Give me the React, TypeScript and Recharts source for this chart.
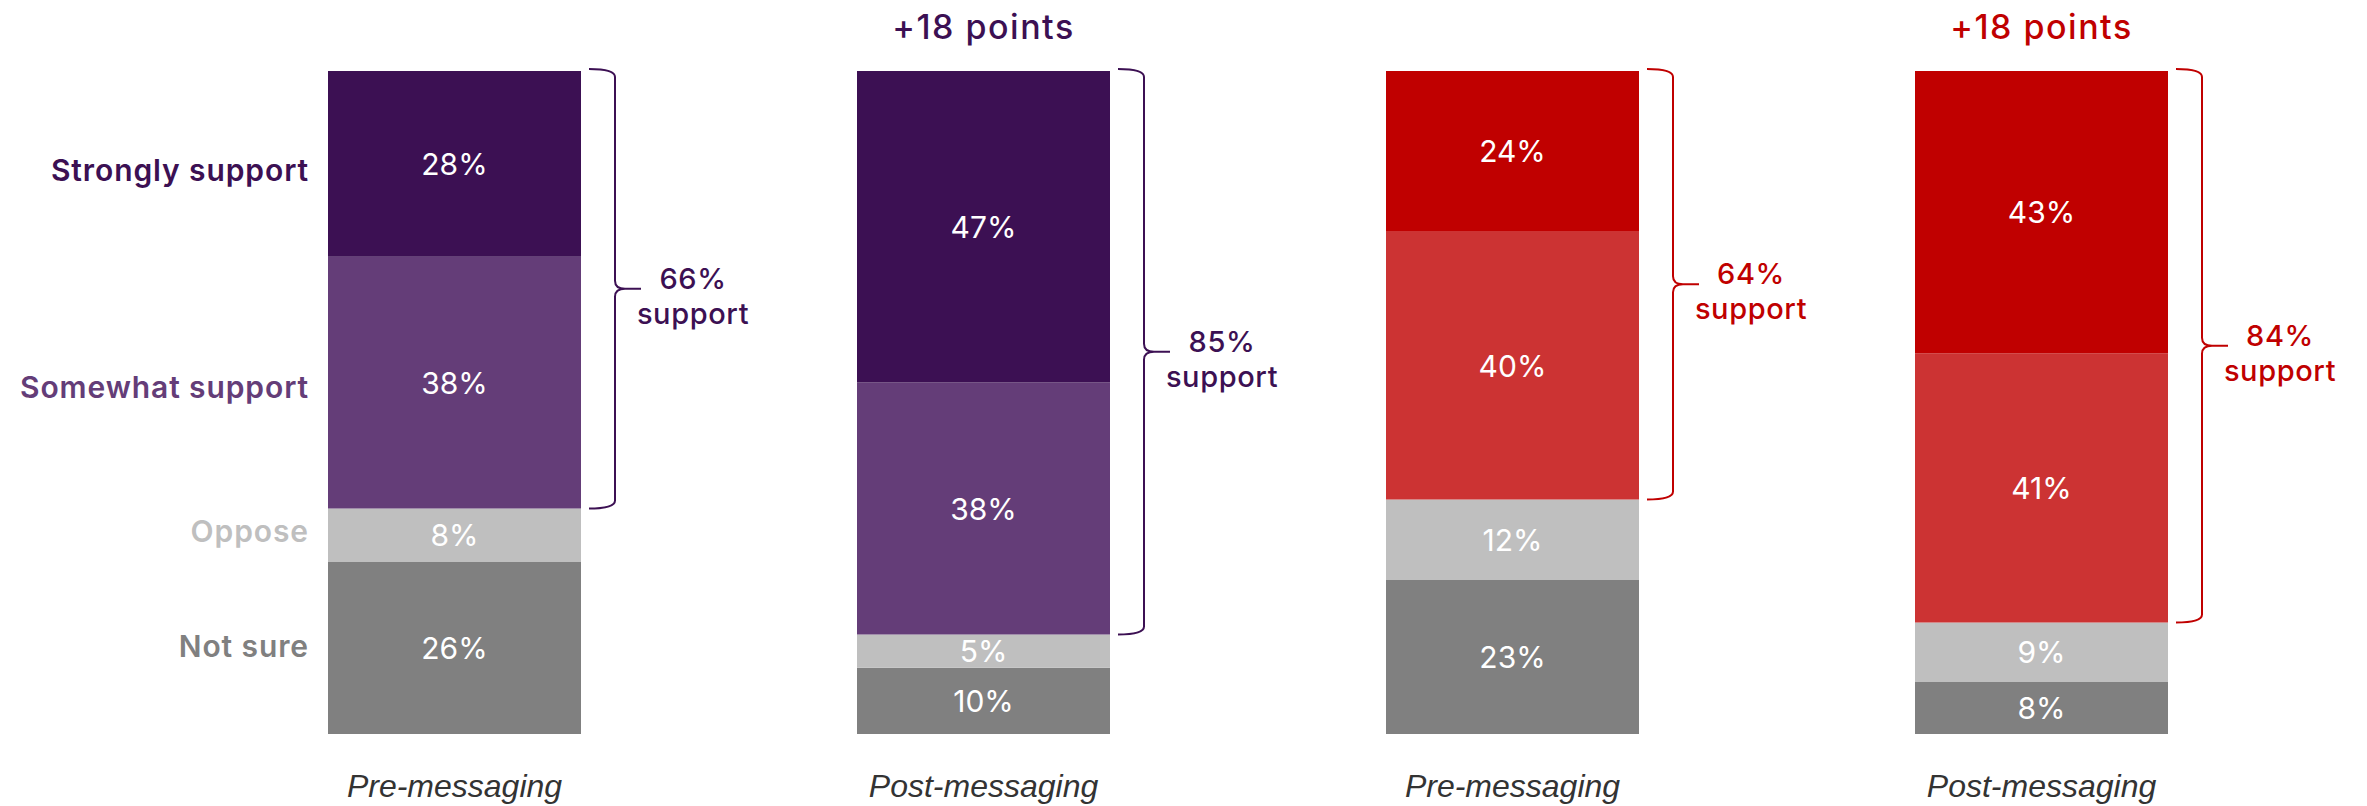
import { BarChart, Bar, XAxis, YAxis, LabelList, Cell } from "recharts"

const CATEGORIES = ["Pre-messaging", "Post-messaging", "Pre-messaging", "Post-messaging"]
const GROUPS: ("purple" | "red")[] = ["purple", "purple", "red", "red"]

const STRONGLY = [28, 47, 24, 43]
const SOMEWHAT = [38, 38, 40, 41]
const OPPOSE = [8, 5, 12, 9]
const NOT_SURE = [26, 10, 23, 8]

const SUPPORT_TOTALS = ["66%", "85%", "64%", "84%"]
const CHANGE_LABELS = ["", "+18 points", "", "+18 points"]
const ROW_LABELS = ["Strongly support", "Somewhat support", "Oppose", "Not sure"]

const PALETTE = {
  purple: { strong: "#3c1053", somewhat: "#643d78" },
  red: { strong: "#c00000", somewhat: "#cc3333" },
}
const OPPOSE_COLOR = "#bfbfbf"
const NOT_SURE_COLOR = "#808080"
const FONT = "Inter, 'Noto Sans', sans-serif"
// row labels sit a touch off the segment centres in the original
const ROW_NUDGE = [6, 4, -4, -2]

const data = CATEGORIES.map((c, i) => ({
  key: `${c}-${i}`,
  strongly: STRONGLY[i],
  somewhat: SOMEWHAT[i],
  oppose: OPPOSE[i],
  notSure: NOT_SURE[i],
}))

// stacked bottom → top
const SERIES = [
  { key: "notSure", values: NOT_SURE, row: 3, fill: () => NOT_SURE_COLOR, rowColor: NOT_SURE_COLOR },
  { key: "oppose", values: OPPOSE, row: 2, fill: () => OPPOSE_COLOR, rowColor: OPPOSE_COLOR },
  { key: "somewhat", values: SOMEWHAT, row: 1, fill: (i: number) => PALETTE[GROUPS[i]].somewhat, rowColor: PALETTE.purple.somewhat },
  { key: "strongly", values: STRONGLY, row: 0, fill: (i: number) => PALETTE[GROUPS[i]].strong, rowColor: PALETTE.purple.strong },
]

function box(p: any) {
  const vb = p.viewBox && p.viewBox.width !== undefined ? p.viewBox : p
  return { x: Number(vb.x), y: Number(vb.y), width: Number(vb.width), height: Number(vb.height) }
}

function bracket(x: number, top: number, bottom: number, color: string, label: string, i: number) {
  const x0 = x + 8
  const xv = x + 34
  const xt = x + 60
  const mid = (top + bottom) / 2
  const d = `M ${x0} ${top} Q ${xv} ${top} ${xv} ${top + 8} L ${xv} ${mid - 8} Q ${xv} ${mid} ${xv + 10} ${mid} L ${xt} ${mid}
    M ${xv + 10} ${mid} Q ${xv} ${mid} ${xv} ${mid + 8} L ${xv} ${bottom - 8} Q ${xv} ${bottom} ${x0} ${bottom}`
  const lx = x + 112
  return (
    <g key={`br-${i}`}>
      <path d={d} fill="none" stroke={color} strokeWidth={2} />
      <text x={lx} y={mid} textAnchor="middle" fill={color} fontFamily={FONT} fontSize={29} fontWeight={500} letterSpacing={0.6}>
        {label}
      </text>
      <text x={lx} y={mid + 35} textAnchor="middle" fill={color} fontFamily={FONT} fontSize={29} fontWeight={500} letterSpacing={0.6}>
        support
      </text>
    </g>
  )
}

function segmentContent(s: (typeof SERIES)[number]) {
  return (p: any) => {
    const i = Number(p.value)
    const { x, y, width, height } = box(p)
    const cx = x + width / 2
    const cy = y + height / 2
    const accent = PALETTE[GROUPS[i]].strong
    return (
      <g>
        <text x={cx} y={cy} textAnchor="middle" dominantBaseline="central" fill="#fff" fontFamily={FONT} fontSize={30}>
          {`${s.values[i]}%`}
        </text>
        {i === 0 && (
          <text x={x - 19} y={cy + ROW_NUDGE[s.row]} textAnchor="end" dominantBaseline="central" fill={s.rowColor}
            fontFamily={FONT} fontSize={30} fontWeight={600} letterSpacing={0.9}>
            {ROW_LABELS[s.row]}
          </text>
        )}
        {s.key === "strongly" && CHANGE_LABELS[i] && (
          <text x={cx} y={y - 32} textAnchor="middle" fill={accent} fontFamily={FONT} fontSize={34} fontWeight={500} letterSpacing={1.5}>
            {CHANGE_LABELS[i]}
          </text>
        )}
        {s.key === "strongly" &&
          bracket(x + width, y - 2, y + height + (height * SOMEWHAT[i]) / STRONGLY[i], accent, SUPPORT_TOTALS[i], i)}
      </g>
    )
  }
}

function CategoryTick(p: any) {
  const idx = p.index ?? p.payload?.index ?? 0
  return (
    <text x={p.x} y={p.y + 44} textAnchor="middle" dominantBaseline="central" fill="#333"
      fontFamily="'Liberation Sans', Arial, sans-serif" fontSize={32} fontStyle="italic">
      {CATEGORIES[idx]}
    </text>
  )
}

export default function App() {
  return (
    <div style={{ position: "absolute", left: 0, top: 0, width: 2367, height: 806, background: "#fff" }}>
      <BarChart width={2367} height={806} data={data} stackOffset="expand" barSize={253}
        margin={{ top: 71, right: 61, left: 190, bottom: 0 }}>
        <XAxis dataKey="key" axisLine={false} tickLine={false} height={72} tick={<CategoryTick />} interval={0} />
        <YAxis hide domain={[0, 1]} />
        {SERIES.map((s) => (
          <Bar key={s.key} dataKey={s.key} stackId="a" isAnimationActive={false}>
            {data.map((_, i) => (
              <Cell key={i} fill={s.fill(i)} />
            ))}
            <LabelList valueAccessor={(_: any, index: number) => index} content={segmentContent(s)} />
          </Bar>
        ))}
      </BarChart>
    </div>
  )
}
